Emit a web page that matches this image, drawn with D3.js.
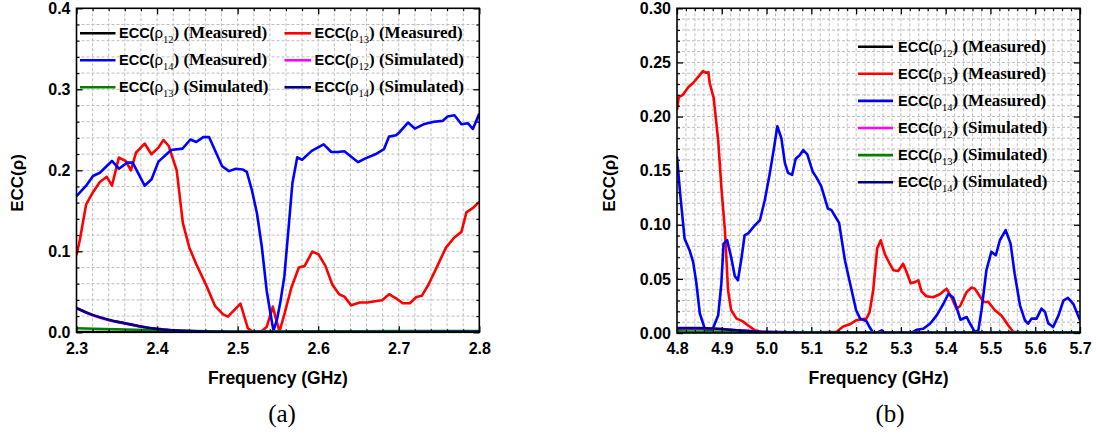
<!DOCTYPE html>
<html>
<head>
<meta charset="utf-8">
<script src="https://cdn.jsdelivr.net/npm/d3@7"></script>
<style>
  body { margin: 0; background: #fff; }
</style>
</head>
<body>
<svg id="chart" width="1096" height="435"></svg>
<script>
// legend order: measured 12/13/14, simulated 12/13/14
const seriesKeys = ['m12', 'm13', 'm14', 's12', 's13', 's14'];
const seriesSubs = ['12', '13', '14', '12', '13', '14'];
const seriesKinds = ['Measured', 'Measured', 'Measured', 'Simulated', 'Simulated', 'Simulated'];

// ---- panel (a): 2.3 - 2.8 GHz, [frequency, ECC] ----
const aXTicks = [2.3, 2.4, 2.5, 2.6, 2.7, 2.8];
const aYTicks = [0.0, 0.1, 0.2, 0.3, 0.4];

const aM12 = [[2.3, 0.0003], [2.5, 0.0002], [2.7, 0.0002], [2.8, 0.0003]];
const aM13 = [[2.3, 0.095], [2.3043, 0.115], [2.312, 0.158], [2.3205, 0.173], [2.329, 0.1856], [2.3376, 0.192],
  [2.344, 0.181], [2.3526, 0.2157], [2.361, 0.2115], [2.3675, 0.2], [2.374, 0.222], [2.3846, 0.233],
  [2.393, 0.2198], [2.4017, 0.228], [2.408, 0.2374], [2.4145, 0.230], [2.4244, 0.2], [2.432, 0.135],
  [2.4401, 0.1045], [2.4487, 0.084], [2.4615, 0.057], [2.472, 0.0325], [2.482, 0.0222], [2.488, 0.0194],
  [2.5035, 0.0354], [2.5127, 0.005], [2.519, 0.0005], [2.53, 0.0016], [2.536, 0.0065], [2.5437, 0.0316],
  [2.548, 0.015], [2.552, 0.001], [2.558, 0.022], [2.567, 0.056], [2.576, 0.080], [2.5833, 0.082],
  [2.5927, 0.0996], [2.6004, 0.0963], [2.609, 0.082], [2.6175, 0.059], [2.626, 0.0469], [2.6325, 0.044],
  [2.641, 0.0333], [2.6517, 0.0367], [2.6624, 0.037], [2.6795, 0.0395], [2.688, 0.047], [2.6966, 0.042],
  [2.705, 0.0358], [2.7137, 0.0358], [2.722, 0.0436], [2.7286, 0.045], [2.737, 0.059], [2.748, 0.082],
  [2.7586, 0.1045], [2.769, 0.117], [2.7778, 0.124], [2.784, 0.148], [2.7927, 0.154], [2.8, 0.161]];
const aM14 = [[2.3, 0.168], [2.312, 0.181], [2.3205, 0.193], [2.329, 0.197], [2.344, 0.2115], [2.3526, 0.202],
  [2.363, 0.2095], [2.3697, 0.2095], [2.3846, 0.181], [2.3932, 0.189], [2.4017, 0.2107], [2.4175, 0.225],
  [2.4316, 0.2268], [2.4414, 0.238], [2.4487, 0.235], [2.4573, 0.241], [2.4645, 0.241], [2.4808, 0.205],
  [2.4893, 0.199], [2.4978, 0.202], [2.506, 0.201], [2.5114, 0.198], [2.5176, 0.176], [2.524, 0.147],
  [2.530, 0.106], [2.536, 0.052], [2.540, 0.0275], [2.5445, 0.002], [2.5487, 0.015], [2.553, 0.037],
  [2.558, 0.069], [2.563, 0.126], [2.568, 0.184], [2.574, 0.216], [2.58, 0.213], [2.592, 0.224],
  [2.6068, 0.232], [2.6163, 0.2226], [2.624, 0.2226], [2.6325, 0.2235], [2.6496, 0.210], [2.658, 0.2144],
  [2.671, 0.2198], [2.6816, 0.226], [2.688, 0.2416], [2.6966, 0.2432], [2.701, 0.247], [2.7115, 0.2589],
  [2.72, 0.2515], [2.7308, 0.2568], [2.7436, 0.260], [2.7543, 0.261], [2.7607, 0.2663], [2.7692, 0.2679],
  [2.7778, 0.2568], [2.786, 0.258], [2.792, 0.251], [2.8, 0.27]];
const aS12 = [[2.3, 0.0295], [2.32, 0.021], [2.34, 0.015], [2.36, 0.011], [2.38, 0.007], [2.4, 0.004],
  [2.42, 0.0024], [2.44, 0.0013], [2.46, 0.0007], [2.5, 0.0003], [2.6, 0.0002], [2.7, 0.0003], [2.8, 0.0005]];
const aS13 = [[2.3, 0.005], [2.35, 0.0037], [2.4, 0.0025], [2.45, 0.0015], [2.5, 0.001], [2.6, 0.0012],
  [2.7, 0.0014], [2.8, 0.0016]];
const aS14 = [[2.3, 0.030], [2.32, 0.0215], [2.34, 0.0155], [2.36, 0.0112], [2.38, 0.0072], [2.4, 0.0042],
  [2.42, 0.0025], [2.44, 0.0014], [2.46, 0.0008], [2.5, 0.0004], [2.6, 0.0003], [2.7, 0.0004], [2.8, 0.0006]];

// ---- panel (b): 4.8 - 5.7 GHz ----
const bXTicks = [4.8, 4.9, 5.0, 5.1, 5.2, 5.3, 5.4, 5.5, 5.6, 5.7];
const bYTicks = [0.00, 0.05, 0.10, 0.15, 0.20, 0.25, 0.30];

const bM12 = [[4.8, 0.0003], [5.2, 0.0002], [5.7, 0.0002]];
const bM13 = [[4.8, 0.206], [4.804, 0.218], [4.813, 0.22], [4.825, 0.227], [4.836, 0.231], [4.851, 0.2385],
  [4.858, 0.242], [4.864, 0.2405], [4.87, 0.241], [4.873, 0.231], [4.882, 0.217], [4.892, 0.178],
  [4.899, 0.135], [4.907, 0.095], [4.914, 0.0395], [4.921, 0.021], [4.933, 0.0133], [4.946, 0.011],
  [4.959, 0.007], [4.974, 0.0025], [4.992, 0.0006], [5.02, 0.0006], [5.08, 0.0003], [5.156, 0.001],
  [5.171, 0.006], [5.186, 0.008], [5.2, 0.0117], [5.212, 0.0126], [5.223, 0.0133], [5.23, 0.019],
  [5.238, 0.039], [5.247, 0.078], [5.255, 0.0857], [5.264, 0.073], [5.275, 0.064], [5.283, 0.058],
  [5.294, 0.0573], [5.305, 0.064], [5.312, 0.057], [5.322, 0.046], [5.331, 0.047], [5.339, 0.0487],
  [5.346, 0.0385], [5.357, 0.034], [5.372, 0.033], [5.387, 0.0358], [5.402, 0.041], [5.413, 0.033],
  [5.424, 0.0225], [5.432, 0.0247], [5.447, 0.038], [5.458, 0.042], [5.465, 0.041], [5.473, 0.036],
  [5.484, 0.0287], [5.495, 0.0287], [5.51, 0.021], [5.525, 0.016], [5.54, 0.007], [5.551, 0.001],
  [5.6, 0.0003], [5.7, 0.0003]];
const bM14 = [[4.8, 0.163], [4.807, 0.129], [4.817, 0.087], [4.828, 0.0765], [4.836, 0.0657], [4.843, 0.047],
  [4.851, 0.018], [4.862, 0.004], [4.872, 0.001], [4.88, 0.004], [4.892, 0.0163], [4.899, 0.0456],
  [4.904, 0.0826], [4.912, 0.0857], [4.921, 0.070], [4.929, 0.0527], [4.936, 0.0487], [4.944, 0.069],
  [4.951, 0.0903], [4.959, 0.092], [4.974, 0.0996], [4.985, 0.104], [4.996, 0.1227], [5.007, 0.147],
  [5.017, 0.172], [5.024, 0.191], [5.033, 0.18], [5.041, 0.157], [5.048, 0.148], [5.057, 0.146],
  [5.065, 0.161], [5.074, 0.1643], [5.082, 0.169], [5.091, 0.165], [5.103, 0.149], [5.111, 0.144],
  [5.122, 0.1357], [5.137, 0.115], [5.145, 0.1135], [5.156, 0.1058], [5.162, 0.1017], [5.175, 0.0672],
  [5.19, 0.0395], [5.2, 0.021], [5.209, 0.0133], [5.223, 0.011], [5.23, 0.0055], [5.237, 0.001],
  [5.248, 0.0005], [5.257, 0.0025], [5.264, 0.0005], [5.324, 0.0003], [5.335, 0.003], [5.35, 0.004],
  [5.365, 0.0086], [5.38, 0.0163], [5.395, 0.027], [5.406, 0.036], [5.417, 0.0327], [5.424, 0.024],
  [5.433, 0.0123], [5.447, 0.0148], [5.454, 0.009], [5.465, 0.001], [5.473, 0.0025], [5.48, 0.021],
  [5.491, 0.058], [5.502, 0.075], [5.512, 0.0718], [5.521, 0.0857], [5.534, 0.095], [5.545, 0.0826],
  [5.554, 0.055], [5.566, 0.0256], [5.577, 0.0117], [5.584, 0.0086], [5.592, 0.0133], [5.603, 0.0133],
  [5.614, 0.0225], [5.622, 0.0194], [5.629, 0.009], [5.64, 0.0055], [5.652, 0.0163], [5.663, 0.030],
  [5.673, 0.0324], [5.685, 0.027], [5.7, 0.0117]];
const bS12 = [[4.8, 0.0040], [4.88, 0.0038], [4.95, 0.0022], [5.0, 0.0010], [5.1, 0.0003], [5.7, 0.0002]];
const bS13 = [[4.8, 0.0015], [4.9, 0.0012], [5.0, 0.0008], [5.2, 0.0005], [5.4, 0.0005], [5.7, 0.0006]];
const bS14 = [[4.8, 0.0045], [4.85, 0.0045], [4.88, 0.0042], [4.9, 0.0037], [4.92, 0.0030], [4.95, 0.0020],
  [4.98, 0.0012], [5.0, 0.0008], [5.05, 0.0004], [5.1, 0.0002], [5.3, 0.0002], [5.5, 0.0002], [5.7, 0.0003]];

const colors = { m12: '#000000', m13: '#ff0000', m14: '#0000ff', s12: '#ff00ff', s13: '#008000', s14: '#000080' };
const SANS = "'Liberation Sans', Arial, sans-serif";
const SERIF = "'Liberation Serif', 'Times New Roman', serif";

const svg = d3.select('#chart');

function legendText(sel, sub, kind) {
    const t = sel.append('text').attr('font-weight', 'bold').attr('fill', '#000');
    t.append('tspan').attr('font-family', SANS).attr('font-size', 14.5).text('ECC(');
    t.append('tspan').attr('font-family', SANS).attr('font-weight', 'normal').attr('font-size', 15).text('\u03c1');
    t.append('tspan').attr('font-family', SERIF).attr('font-weight', 'normal').attr('font-size', 10.5)
        .attr('dy', 5).text(sub);
    t.append('tspan').attr('font-family', SERIF).attr('font-size', 17).attr('dy', -5).text(')');
    t.append('tspan').attr('font-family', SERIF).attr('font-size', 17).text('\u00a0(' + kind + ')');
    return t;
}

function drawPanel(cfg) {
    const g = svg.append('g');
    const x = d3.scaleLinear().domain(cfg.xDomain).range([cfg.left, cfg.right]);
    const y = d3.scaleLinear().domain(cfg.yDomain).range([cfg.bottom, cfg.top]);

    // dashed grid at minor steps
    const xGrid = d3.range(1, Math.round((cfg.xDomain[1] - cfg.xDomain[0]) / cfg.xMinor))
        .map(i => cfg.xDomain[0] + i * cfg.xMinor);
    const yGrid = d3.range(1, Math.round((cfg.yDomain[1] - cfg.yDomain[0]) / cfg.yMinor))
        .map(i => cfg.yDomain[0] + i * cfg.yMinor);

    g.append('g').selectAll('line').data(xGrid).join('line')
        .attr('x1', d => x(d)).attr('x2', d => x(d))
        .attr('y1', cfg.top).attr('y2', cfg.bottom)
        .attr('stroke', '#bdbdbd').attr('stroke-width', 1).attr('stroke-dasharray', '3,2');
    g.append('g').selectAll('line').data(yGrid).join('line')
        .attr('y1', d => y(d)).attr('y2', d => y(d))
        .attr('x1', cfg.left).attr('x2', cfg.right)
        .attr('stroke', '#bdbdbd').attr('stroke-width', 1).attr('stroke-dasharray', '3,2');

    // curves
    const clipId = 'clip-' + cfg.name;
    svg.append('clipPath').attr('id', clipId).append('rect')
        .attr('x', cfg.left).attr('y', cfg.top - 2)
        .attr('width', cfg.right - cfg.left).attr('height', cfg.bottom - cfg.top + 2);

    const line = d3.line().x(d => x(d[0])).y(d => y(d[1]));
    const lines = g.append('g').attr('clip-path', `url(#${clipId})`);
    seriesKeys.forEach((k, i) => {
        lines.append('path')
            .datum(cfg.series[i])
            .attr('d', line.curve(k[0] === 's' ? d3.curveMonotoneX : d3.curveLinear))
            .attr('fill', 'none')
            .attr('stroke', colors[k])
            .attr('stroke-width', 2.6)
            .attr('stroke-linejoin', 'round');
    });

    // inward ticks on all four sides
    const majorX = cfg.xTicks, majorY = cfg.yTicks;
    const minorX = xGrid.filter(v => !majorX.some(m => Math.abs(m - v) < 1e-6));
    const minorY = yGrid.filter(v => !majorY.some(m => Math.abs(m - v) < 1e-6));
    const tickGroups = [
        [d3.axisBottom(x), `translate(0,${cfg.bottom})`, majorX, minorX],
        [d3.axisTop(x), `translate(0,${cfg.top})`, majorX, minorX],
        [d3.axisLeft(y), `translate(${cfg.left},0)`, majorY, minorY],
        [d3.axisRight(y), `translate(${cfg.right},0)`, majorY, minorY]
    ];
    tickGroups.forEach(([ax, tr, maj, min]) => {
        g.append('g').attr('transform', tr)
            .call(ax.tickValues(maj).tickSize(-6).tickFormat(''))
            .call(s => s.select('.domain').remove())
            .selectAll('line').attr('stroke', '#000').attr('stroke-width', 1.3);
        g.append('g').attr('transform', tr)
            .call(ax.tickValues(min).tickSize(-3).tickFormat(''))
            .call(s => s.select('.domain').remove())
            .selectAll('line').attr('stroke', '#000').attr('stroke-width', 1.1);
    });

    // tick labels
    g.append('g').attr('transform', `translate(0,${cfg.bottom})`)
        .call(d3.axisBottom(x).tickValues(majorX).tickSize(0).tickPadding(10).tickFormat(d3.format('.1f')))
        .call(s => s.select('.domain').remove())
        .selectAll('text')
        .attr('font-family', SANS).attr('font-weight', 'bold').attr('font-size', 16).attr('fill', '#000');
    g.append('g').attr('transform', `translate(${cfg.left},0)`)
        .call(d3.axisLeft(y).tickValues(majorY).tickSize(0).tickPadding(6).tickFormat(d3.format(cfg.yFormat)))
        .call(s => s.select('.domain').remove())
        .selectAll('text')
        .attr('font-family', SANS).attr('font-weight', 'bold').attr('font-size', 16).attr('fill', '#000');

    // frame
    g.append('rect')
        .attr('x', cfg.left).attr('y', cfg.top)
        .attr('width', cfg.right - cfg.left).attr('height', cfg.bottom - cfg.top)
        .attr('fill', 'none').attr('stroke', '#000').attr('stroke-width', 1.6);

    // axis titles
    g.append('text')
        .attr('x', (cfg.left + cfg.right) / 2).attr('y', 384)
        .attr('text-anchor', 'middle')
        .attr('font-family', SANS).attr('font-weight', 'bold').attr('font-size', 17.5)
        .text('Frequency (GHz)');
    g.append('text')
        .attr('transform', `translate(${cfg.yTitleX},183) rotate(-90)`)
        .attr('text-anchor', 'middle').attr('dy', '0.35em')
        .attr('font-family', SANS).attr('font-weight', 'bold').attr('font-size', 17)
        .text('ECC(\u03c1)');

    // legend
    cfg.legend.forEach((pos, i) => {
        const k = seriesKeys[i];
        g.append('line')
            .attr('x1', pos[0]).attr('x2', pos[1])
            .attr('y1', pos[3]).attr('y2', pos[3])
            .attr('stroke', colors[k]).attr('stroke-width', 2.6);
        legendText(g, seriesSubs[i], seriesKinds[i])
            .attr('x', pos[2]).attr('y', pos[3] + 5);
    });

    // panel label
    g.append('text')
        .attr('x', cfg.labelX).attr('y', 422)
        .attr('text-anchor', 'middle')
        .attr('font-family', SERIF).attr('font-size', 25)
        .text(cfg.label);
}

drawPanel({
    name: 'a', label: '(a)', labelX: 282,
    left: 76.5, right: 479.3, top: 8.3, bottom: 332.3,
    xDomain: [2.3, 2.8], yDomain: [0, 0.4],
    xTicks: aXTicks, yTicks: aYTicks, xMinor: 0.02, yMinor: 0.02,
    yFormat: '.1f', yTitleX: 17,
    series: [aM12, aM13, aM14, aS12, aS13, aS14],
    // [line x1, line x2, text x, row y]
    legend: [[80, 115.5, 119, 33.3], [284.5, 311, 314.5, 33.3],
             [80, 115.5, 119, 60.3], [284.5, 311, 314.5, 60.3],
             [80, 115.5, 119, 87.3], [284.5, 311, 314.5, 87.3]]
});

drawPanel({
    name: 'b', label: '(b)', labelX: 890,
    left: 677, right: 1080, top: 8.3, bottom: 333,
    xDomain: [4.8, 5.7], yDomain: [0, 0.3],
    xTicks: bXTicks, yTicks: bYTicks, xMinor: 0.02, yMinor: 0.01,
    yFormat: '.2f', yTitleX: 609,
    series: [bM12, bM13, bM14, bS12, bS13, bS14],
    legend: d3.range(6).map(i => [858, 893, 898, 46.7 + 27.1 * i])
});
</script>
</body>
</html>
